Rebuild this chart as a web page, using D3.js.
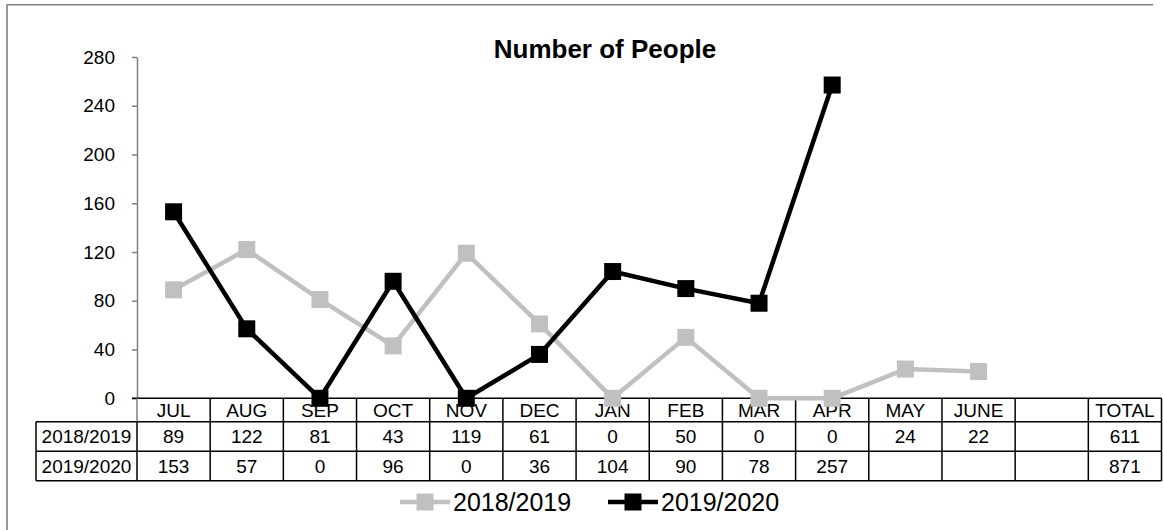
<!DOCTYPE html>
<html>
<head>
<meta charset="utf-8">
<script src="https://cdn.jsdelivr.net/npm/d3@7"></script>
<style>
  body { margin: 0; background: #fff; }
  svg text { font-family: "Liberation Sans", Arial, sans-serif; fill: #000; }
</style>
</head>
<body>
<div class="chart"></div>
<script>
// data
var months = ["JUL", "AUG", "SEP", "OCT", "NOV", "DEC", "JAN", "FEB", "MAR", "APR", "MAY", "JUNE"];
var columns = months.concat(["", "TOTAL"]);
var seriesNames = ["2018/2019", "2019/2020"];
var values1819 = [89, 122, 81, 43, 119, 61, 0, 50, 0, 0, 24, 22];
var values1920 = [153, 57, 0, 96, 0, 36, 104, 90, 78, 257];
var totals = [611, 871];
var yTicks = [0, 40, 80, 120, 160, 200, 240, 280];
var seriesColors = ["#c0c0c0", "#000000"];

var w = 1163, h = 530;
var x0 = 137, x1 = 1161.5, yTop = 57, yZero = 398.3;
var labelLeft = 36;
var rowEdges = [yZero, 421.7, 451.2, 480.8];

var svg = d3.select(".chart").append("svg")
    .attr("width", w)
    .attr("height", h);

// outer chart border (right/bottom are cut off in the picture)
svg.append("path")
    .attr("d", "M7,530 V4.8 H1153")
    .attr("fill", "none")
    .attr("stroke", "#808080")
    .attr("stroke-width", 1.6);

var x = d3.scaleBand()
    .domain(d3.range(columns.length))
    .range([x0, x1]);

var y = d3.scaleLinear()
    .domain([0, 280])
    .range([yZero, yTop]);

// title
svg.append("text")
    .attr("x", 605)
    .attr("y", 58)
    .attr("text-anchor", "middle")
    .style("font-size", "26px")
    .style("font-weight", "bold")
    .text("Number of People");

// y axis
var yAxis = svg.append("g")
    .attr("transform", "translate(" + x0 + ",0)")
    .call(d3.axisLeft(y).tickValues(yTicks).tickSize(5).tickSizeOuter(0).tickPadding(17));
yAxis.select(".domain").attr("stroke", "#808080").attr("stroke-width", 1.5);
yAxis.selectAll(".tick line").attr("stroke", "#808080").attr("stroke-width", 1.5);
yAxis.selectAll(".tick text")
    .style("font-size", "19px")
    .style("font-family", "Liberation Sans, Arial, sans-serif");

// data table
var table = svg.append("g").attr("class", "data-table");

// horizontal rules
table.append("line")
    .attr("x1", x0 - 5).attr("x2", x1)
    .attr("y1", rowEdges[0]).attr("y2", rowEdges[0])
    .attr("stroke", "#000").attr("stroke-width", 1.5);
rowEdges.slice(1).forEach(function(ry) {
    table.append("line")
        .attr("x1", labelLeft).attr("x2", x1)
        .attr("y1", ry).attr("y2", ry)
        .attr("stroke", "#000").attr("stroke-width", 1.5);
});

// vertical rules
table.append("line")
    .attr("x1", labelLeft).attr("x2", labelLeft)
    .attr("y1", rowEdges[1]).attr("y2", rowEdges[3])
    .attr("stroke", "#000").attr("stroke-width", 1.5);
table.append("line")
    .attr("x1", x0).attr("x2", x0)
    .attr("y1", rowEdges[0]).attr("y2", rowEdges[1])
    .attr("stroke", "#808080").attr("stroke-width", 1.5);
table.append("line")
    .attr("x1", x0).attr("x2", x0)
    .attr("y1", rowEdges[1]).attr("y2", rowEdges[3])
    .attr("stroke", "#000").attr("stroke-width", 1.5);
table.selectAll(".col-rule")
    .data(d3.range(1, columns.length + 1))
    .enter().append("line")
    .attr("class", "col-rule")
    .attr("x1", function(i) { return x0 + i * x.bandwidth(); })
    .attr("x2", function(i) { return x0 + i * x.bandwidth(); })
    .attr("y1", rowEdges[0])
    .attr("y2", rowEdges[3])
    .attr("stroke", "#000")
    .attr("stroke-width", 1.5);

function cellText(g, cx, cy, txt) {
    g.append("text")
        .attr("x", cx)
        .attr("y", cy)
        .attr("dy", "0.36em")
        .attr("text-anchor", "middle")
        .style("font-size", "19px")
        .text(txt);
}

var rowMid = function(r) { return (rowEdges[r] + rowEdges[r + 1]) / 2; };

columns.forEach(function(c, i) {
    cellText(table, x(i) + x.bandwidth() / 2, rowMid(0), c);
});

[values1819, values1920].forEach(function(vals, r) {
    cellText(table, (labelLeft + x0) / 2, rowMid(r + 1), seriesNames[r]);
    vals.forEach(function(v, i) {
        cellText(table, x(i) + x.bandwidth() / 2, rowMid(r + 1), v);
    });
    cellText(table, x(columns.length - 1) + x.bandwidth() / 2, rowMid(r + 1), totals[r]);
});

// lines + markers
var line = d3.line()
    .x(function(d, i) { return x(i) + x.bandwidth() / 2; })
    .y(function(d) { return y(d); });

var ms = 17;
[values1819, values1920].forEach(function(vals, s) {
    var g = svg.append("g").attr("class", "series");
    g.append("path")
        .datum(vals)
        .attr("d", line)
        .attr("fill", "none")
        .attr("stroke", seriesColors[s])
        .attr("stroke-width", 4.5)
        .attr("stroke-linejoin", "round");
    g.selectAll("rect")
        .data(vals)
        .enter().append("rect")
        .attr("x", function(d, i) { return x(i) + x.bandwidth() / 2 - ms / 2; })
        .attr("y", function(d) { return y(d) - ms / 2; })
        .attr("width", ms)
        .attr("height", ms)
        .attr("fill", seriesColors[s]);
});

// legend
var legendX = [400, 608];
var legend = svg.append("g").attr("class", "legend");
seriesNames.forEach(function(name, s) {
    var lg = legend.append("g").attr("transform", "translate(" + legendX[s] + ",502)");
    lg.append("line")
        .attr("x1", 0).attr("x2", 50)
        .attr("stroke", seriesColors[s])
        .attr("stroke-width", 4.5);
    lg.append("rect")
        .attr("x", 25 - ms / 2).attr("y", -ms / 2)
        .attr("width", ms).attr("height", ms)
        .attr("fill", seriesColors[s]);
    lg.append("text")
        .attr("x", 53)
        .attr("y", 8.5)
        .style("font-size", "25px")
        .text(name);
});
</script>
</body>
</html>
